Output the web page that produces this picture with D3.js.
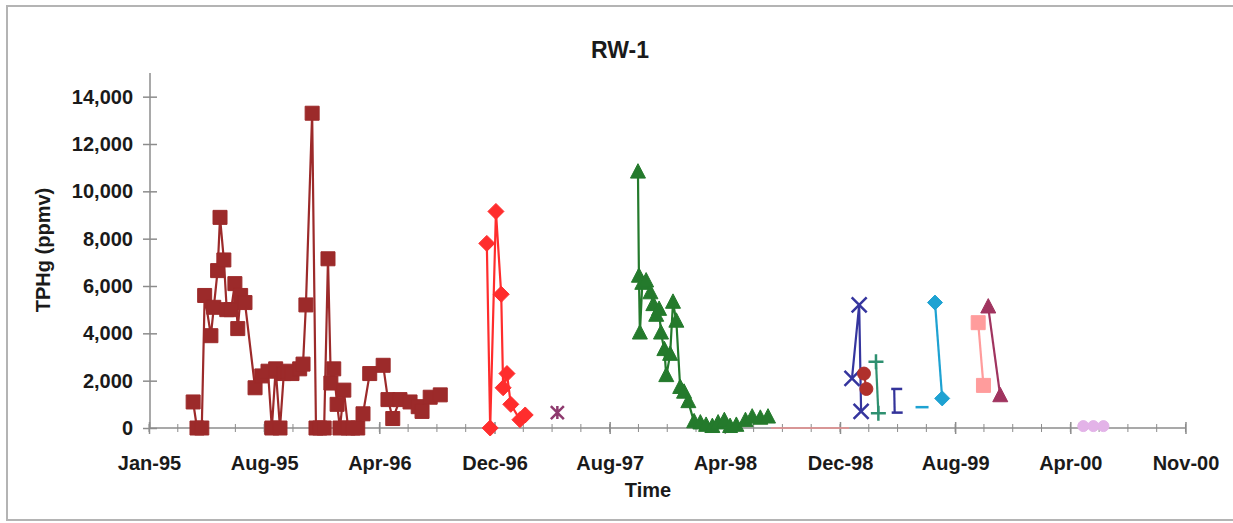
<!DOCTYPE html>
<html><head><meta charset="utf-8">
<script src="https://cdn.jsdelivr.net/npm/d3@7"></script>
<style>html,body{margin:0;padding:0;background:#fff;}svg{display:block;font-family:"Liberation Sans",Arial,sans-serif;}</style>
</head><body><svg id="c" width="1233" height="523"></svg>
<script>
// ---------- DATA ----------
const title = "RW-1";
const yLabel = "TPHg (ppmv)";
const xLabel = "Time";
const xTickLabels = ["Jan-95","Aug-95","Apr-96","Dec-96","Aug-97","Apr-98","Dec-98","Aug-99","Apr-00","Nov-00"];
const yTicks = [0,2000,4000,6000,8000,10000,12000,14000];

const s1Dates = ["1995-04-03","1995-04-11","1995-04-21","1995-04-27","1995-05-10","1995-05-16","1995-05-24","1995-05-29","1995-06-06","1995-06-12","1995-06-21","1995-06-29","1995-07-05","1995-07-11","1995-07-20","1995-08-10","1995-08-24","1995-09-06","1995-09-14","1995-09-22","1995-10-01","1995-10-09","1995-10-17","1995-10-26","1995-11-11","1995-11-18","1995-11-24","1995-12-07","1995-12-15","1995-12-23","1996-01-01","1996-01-09","1996-01-15","1996-01-21","1996-01-28","1996-02-03","1996-02-11","1996-02-20","1996-03-01","1996-03-11","1996-03-22","1996-04-05","1996-05-03","1996-05-13","1996-05-23","1996-06-07","1996-06-28","1996-07-15","1996-07-23","1996-08-09","1996-08-30"];
const s1Values = [1100,0,0,5600,3900,5100,6650,8900,7100,5000,5000,6100,4200,5600,5300,1700,2200,2400,0,2500,0,2300,2400,2300,2500,2700,5200,13300,0,0,0,7150,1900,2500,1000,0,1600,0,0,0,600,2300,2650,1200,400,1200,1100,900,700,1300,1400];

const s2Dates = ["1996-12-05","1996-12-12","1996-12-24","1997-01-04","1997-01-08","1997-01-16","1997-01-24","1997-02-12","1997-02-23"];
const s2Values = [7800,0,9150,5650,1700,2300,1000,350,550];

const s3Dates = ["1997-05-01"];
const s3Values = [650];

const s4Dates = ["1997-10-16","1997-10-18","1997-10-20","1997-10-25","1997-11-02","1997-11-11","1997-11-17","1997-11-23","1997-11-29","1997-12-03","1997-12-10","1997-12-14","1997-12-22","1997-12-28","1998-01-04","1998-01-12","1998-01-20","1998-01-29","1998-02-10","1998-02-23","1998-03-07","1998-03-20","1998-04-01","1998-04-14","1998-04-26","1998-05-09","1998-05-28","1998-06-11","1998-06-28","1998-07-14"];
const s4Values = [10800,6400,4000,6100,6200,5700,5200,4750,5000,4000,3300,2200,3100,5300,4500,1700,1500,1100,250,200,100,50,200,300,50,100,300,450,400,450];

const s5Dates = ["1998-07-20","1998-12-30"];
const s5Values = [0,0];

const s6Dates = ["1999-01-05","1999-01-20","1999-01-24"];
const s6Values = [2100,5200,700];

const s7Dates = ["1999-01-30","1999-02-04"];
const s7Values = [2300,1650];

const s8Dates = ["1999-02-24","1999-03-01"];
const s8Values = [2800,620];

const s9Dates = ["1999-04-03","1999-04-04"];
const s9Values = [1650,650];

const s10Dates = ["1999-05-31"];
const s10Values = [880];

const s11Dates = ["1999-06-27","1999-07-12"];
const s11Values = [5300,1250];

const s12Dates = ["1999-09-25","1999-10-06"];
const s12Values = [4450,1800];

const s13Dates = ["1999-10-16","1999-11-10"];
const s13Values = [5100,1350];

const s14Dates = ["2000-05-01","2000-05-22","2000-06-12"];
const s14Values = [80,80,80];

// ---------- SETUP ----------
const parse = d3.utcParse("%Y-%m-%d");
const svg = d3.select("#c");
const x0 = parse("1995-01-01"), x1 = parse("2000-11-29");
const x = d3.scaleUtc().domain([x0, x1]).range([149, 1185]);
const y = d3.scaleLinear().domain([0, 15000]).range([428, 73]);

// frame
svg.append("rect").attr("x",7).attr("y",6).attr("width",1240).attr("height",514)
  .attr("fill","none").attr("stroke","#b4b4b4").attr("stroke-width",2);

const txt = "#1a1a1a";
// title & labels
svg.append("text").attr("x",620).attr("y",58).attr("text-anchor","middle")
  .attr("font-size",23).attr("font-weight","bold").attr("fill",txt).text(title);
svg.append("text").attr("transform","translate(50,250) rotate(-90)").attr("text-anchor","middle")
  .attr("font-size",20).attr("font-weight","bold").attr("fill",txt).text(yLabel);
svg.append("text").attr("x",648).attr("y",497).attr("text-anchor","middle")
  .attr("font-size",20).attr("font-weight","bold").attr("fill",txt).text(xLabel);

// axes
const axisColor = "#8c8c8c";
const xTickDates = xTickLabels.map((_, i) => d3.utcDay.offset(x0, i * 240));
const xMinor = d3.range(0, 2161, 60).map(d => d3.utcDay.offset(x0, d));

svg.append("g").selectAll("line").data(xMinor).join("line")
  .attr("x1", d => x(d)).attr("x2", d => x(d)).attr("y1", 424).attr("y2", 432)
  .attr("stroke", axisColor).attr("stroke-width", 1);

const gx = svg.append("g").attr("transform","translate(0,428)")
  .call(d3.axisBottom(x).tickValues(xTickDates).tickFormat((d,i)=>xTickLabels[i]).tickSize(6).tickPadding(22));
gx.select(".domain").remove();
gx.selectAll(".tick line").attr("y1",-6).attr("stroke",axisColor).attr("stroke-width",1.5);
gx.selectAll(".tick text").attr("font-size",20).attr("font-weight","bold").attr("fill",txt)
  .attr("font-family","'Liberation Sans',Arial,sans-serif");

const gy = svg.append("g").attr("transform","translate(150,0)")
  .call(d3.axisLeft(y).tickValues(yTicks).tickFormat(d3.format(",")).tickSize(7).tickPadding(10));
gy.select(".domain").remove();
gy.selectAll(".tick line").attr("x1",7).attr("stroke",axisColor).attr("stroke-width",1.5);
gy.selectAll(".tick text").attr("font-size",20).attr("font-weight","bold").attr("fill",txt)
  .attr("font-family","'Liberation Sans',Arial,sans-serif");

svg.append("line").attr("x1",x(x0)).attr("x2",x(x1)).attr("y1",y(0)).attr("y2",y(0))
  .attr("stroke",axisColor).attr("stroke-width",1.5);
svg.append("line").attr("x1",150).attr("x2",150).attr("y1",y(0)).attr("y2",y(15000))
  .attr("stroke",axisColor).attr("stroke-width",1.5);

// markers
const M = {
  square: s => `M${-s/2},${-s/2}h${s}v${s}h${-s}Z`,
  diamond: s => `M0,${-s/2}L${s/2},0L0,${s/2}L${-s/2},0Z`,
  triangle: s => `M0,${-s*0.58}L${s/2},${s*0.38}L${-s/2},${s*0.38}Z`,
  circle: s => `M${-s/2},0a${s/2},${s/2} 0 1,0 ${s},0a${s/2},${s/2} 0 1,0 ${-s},0Z`,
  x: s => `M${-s/2},${-s/2}L${s/2},${s/2}M${s/2},${-s/2}L${-s/2},${s/2}`,
  star: s => `M${-s/2},${-s/2}L${s/2},${s/2}M${s/2},${-s/2}L${-s/2},${s/2}M0,${-s/2}V${s/2}`,
  plus: s => `M${-s/2},0H${s/2}M0,${-s/2}V${s/2}`,
  bracket: s => `M-3,0H${s}`,
  dash: s => `M${-s/2},0H${s/2}`
};
const filled = {square:true, diamond:true, triangle:true, circle:true};

const series = [
  {d:s1Dates, v:s1Values, c:"#9c2a2a", m:"square", s:14},
  {d:s2Dates, v:s2Values, c:"#ff2d2d", m:"diamond", s:16},
  {d:s3Dates, v:s3Values, c:"#8e3a6e", m:"star", s:13},
  {d:s4Dates, v:s4Values, c:"#247a2c", m:"triangle", s:15},
  {d:s5Dates, v:s5Values, c:"#e89090", m:null, s:0, w:1.5},
  {d:s6Dates, v:s6Values, c:"#35359e", m:"x", s:15},
  {d:s7Dates, v:s7Values, c:"#b0302c", m:"circle", s:13},
  {d:s8Dates, v:s8Values, c:"#2e9070", m:"plus", s:15},
  {d:s9Dates, v:s9Values, c:"#33339a", m:"bracket", s:8},
  {d:s10Dates, v:s10Values, c:"#1ea2d2", m:"dash", s:13},
  {d:s11Dates, v:s11Values, c:"#1ea2d2", m:"diamond", s:15},
  {d:s12Dates, v:s12Values, c:"#ff9c9c", m:"square", s:14},
  {d:s13Dates, v:s13Values, c:"#a0345f", m:"triangle", s:15},
  {d:s14Dates, v:s14Values, c:"#e3b3e8", m:"circle", s:11}
];

const line = d3.line().x(p => x(p.t)).y(p => y(p.v));
series.forEach(S => {
  const pts = S.d.map((d,i) => ({t: parse(d), v: S.v[i]}));
  const g = svg.append("g");
  if (pts.length > 1) {
    g.append("path").attr("d", line(pts)).attr("fill","none")
      .attr("stroke", S.c).attr("stroke-width", S.w || 2.2).attr("stroke-linejoin","round");
  }
  if (S.m) {
    g.selectAll("path.mk").data(pts).join("path").attr("class","mk")
      .attr("transform", p => `translate(${x(p.t)},${y(p.v)})`)
      .attr("d", M[S.m](S.s))
      .attr("fill", filled[S.m] ? S.c : "none")
      .attr("stroke", S.c)
      .attr("stroke-width", filled[S.m] ? 1 : 2.5);
  }
});
</script></body></html>
